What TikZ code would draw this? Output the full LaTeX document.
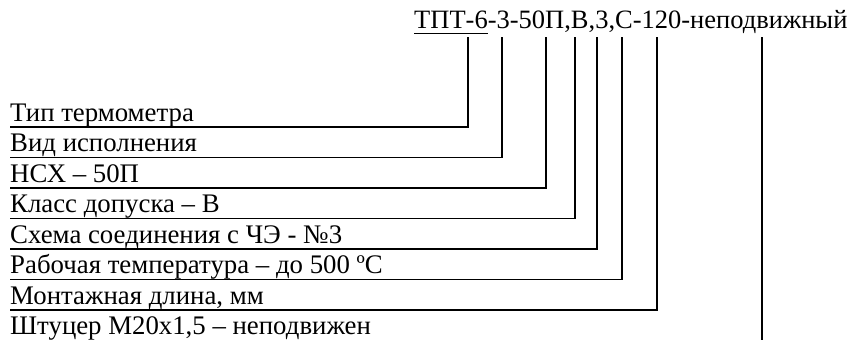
\documentclass[tikz,border=0pt]{standalone}
\usepackage{fontspec}
\setmainfont{Liberation Serif}
\begin{document}
\begin{tikzpicture}[x=1pt,y=-1pt,
  lbl/.style={anchor=base west,inner sep=0pt,font=\fontsize{26.8}{32}\selectfont},
  codefont/.style={anchor=base west,inner sep=0pt,font=\fontsize{26.5}{32}\selectfont},
  leader/.style={line width=1.4pt,line join=miter}]
\useasboundingbox (0,0) rectangle (851,340);
% designation string
\node[codefont] (code) at (414,28) {ТПТ-6-3-50П,В,3,С-120-неподвижный};
\draw[line width=1pt] (414,33) -- (488,33);
% tap points under the designation
\foreach \n/\x in {a/468,b/502,c/546,d/575,e/597,f/622,g/657,h/762}
  \coordinate (t\n) at (\x,37);
% explanation labels, one per row
\foreach \n/\y/\t in {a/127/Тип термометра,
                      b/157.5/Вид исполнения,
                      c/188/НСХ – 50П,
                      d/218.5/Класс допуска – В,
                      e/249/Схема соединения с ЧЭ - №3,
                      f/279.5/Рабочая температура – до 500 ºС,
                      g/310/Монтажная длина{,} мм,
                      h/340.5/Штуцер М20х1{,}5 – неподвижен}
{
  \node[lbl] (l\n) at (10,\y-6) {\t};
  \coordinate (r\n) at (10,\y);
}
% leaders from each label to its tap point
\foreach \n in {a,b,c,d,e,f,g}
  \draw[leader] (r\n) -| (t\n);
\draw[leader] (th) -- (th |- 0,340);
\end{tikzpicture}
\end{document}
